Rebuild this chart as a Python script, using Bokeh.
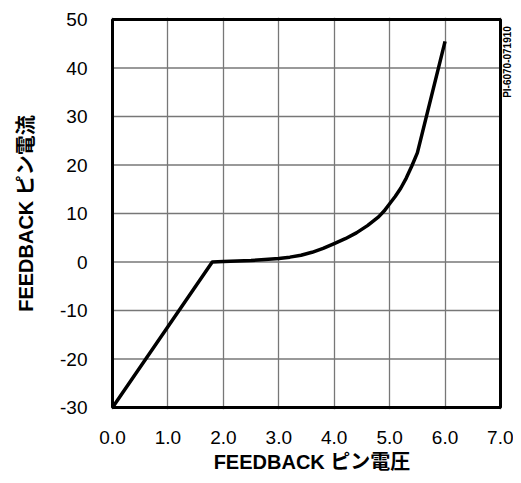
import math
from bokeh.plotting import figure
from bokeh.models import (FixedTicker, PrintfTickFormatter, Label, Range1d,
                          BoxAnnotation)
from bokeh.embed import file_html
from bokeh.resources import INLINE

# Data
voltage = [0.0, 1.8, 2.0, 2.25, 2.5, 2.75, 3.0, 3.2, 3.4, 3.6, 3.8, 4.0,
           4.2, 4.4, 4.6, 4.8, 4.9, 5.0, 5.1, 5.2, 5.3, 5.4, 5.5, 6.0]
current = [-30.0, 0.0, 0.1, 0.2, 0.3, 0.5, 0.7, 1.0, 1.4, 2.0, 2.8, 3.8,
           4.8, 6.0, 7.5, 9.3, 10.5, 12.0, 13.5, 15.2, 17.3, 19.8, 22.5, 45.5]
x_ticks = [0, 1, 2, 3, 4, 5, 6, 7]
y_ticks = [-30, -20, -10, 0, 10, 20, 30, 40, 50]
x_title = "FEEDBACK ピン電圧"
y_title = "FEEDBACK ピン電流"
doc_id = "PI-6070-071910"

FONT = "Liberation Sans, Noto Sans CJK JP"

# layout (pixels): plot box 388 x 388; the drawing area is padded so that the
# box border and the vertical id text at the right are not clipped
W, H = 513, 475
BOX_L, BOX_T, BOX_SIZE = 112, 19, 388
PAD = 2
xs = BOX_SIZE / (x_ticks[-1] - x_ticks[0])   # px per x unit
ys = BOX_SIZE / (y_ticks[-1] - y_ticks[0])   # px per y unit
right_extra = W - (BOX_L + BOX_SIZE)

p = figure(width=W, height=H, output_backend="svg", toolbar_location=None,
           x_range=Range1d(x_ticks[0] - PAD / xs, x_ticks[-1] + right_extra / xs),
           y_range=Range1d(y_ticks[0] - PAD / ys, y_ticks[-1] + PAD / ys))
p.min_border_left = BOX_L - PAD
p.min_border_right = 0
p.min_border_top = BOX_T - PAD
p.min_border_bottom = H - (BOX_T + BOX_SIZE) - PAD
p.outline_line_color = None

for ax in (p.xaxis[0], p.yaxis[0]):
    ax.axis_line_color = None
    ax.major_tick_line_color = None
    ax.minor_tick_line_color = None
    ax.major_label_text_font = FONT
    ax.major_label_text_font_size = "19px"
    ax.major_label_text_color = "black"
    ax.axis_label_text_font = FONT
    ax.axis_label_text_font_style = "bold"
    ax.axis_label_text_font_size = "20px"
    ax.axis_label_text_color = "black"

p.xaxis.ticker = FixedTicker(ticks=x_ticks)
p.xaxis.formatter = PrintfTickFormatter(format="%.1f")
p.yaxis.ticker = FixedTicker(ticks=y_ticks)
p.yaxis.formatter = PrintfTickFormatter(format="%d")
p.xaxis.major_label_standoff = 17 - PAD
p.yaxis.major_label_standoff = 19 - PAD
p.xaxis.axis_label = x_title
p.xaxis.axis_label_standoff = 4
p.yaxis.axis_label = y_title
p.yaxis.axis_label_standoff = 20

GRID = "#777777"
p.xgrid.ticker = FixedTicker(ticks=x_ticks)
p.xgrid.grid_line_color = GRID
p.xgrid.grid_line_width = 1.3
p.ygrid.visible = False
# horizontal grid lines limited to the plot box
p.segment(x0=[x_ticks[0]] * len(y_ticks), x1=[x_ticks[-1]] * len(y_ticks),
          y0=y_ticks, y1=y_ticks, line_color=GRID, line_width=1.3)

p.line(voltage, current, line_color="black", line_width=3.5, line_join="round")

# plot box border
p.add_layout(BoxAnnotation(left=x_ticks[0], right=x_ticks[-1],
                           bottom=y_ticks[0], top=y_ticks[-1],
                           fill_color=None, fill_alpha=0,
                           line_color="black", line_width=3, line_alpha=1))

# document id, vertical at the right edge
p.add_layout(Label(x=x_ticks[-1] + 6.5 / xs, y=y_ticks[-1] - 42.5 / ys,
                   text=doc_id, angle=math.pi / 2,
                   text_align="center", text_baseline="middle",
                   text_font=FONT, text_font_style="bold", text_font_size="10px",
                   text_color="black"))

open("out.html", "w").write(file_html(p, INLINE))
